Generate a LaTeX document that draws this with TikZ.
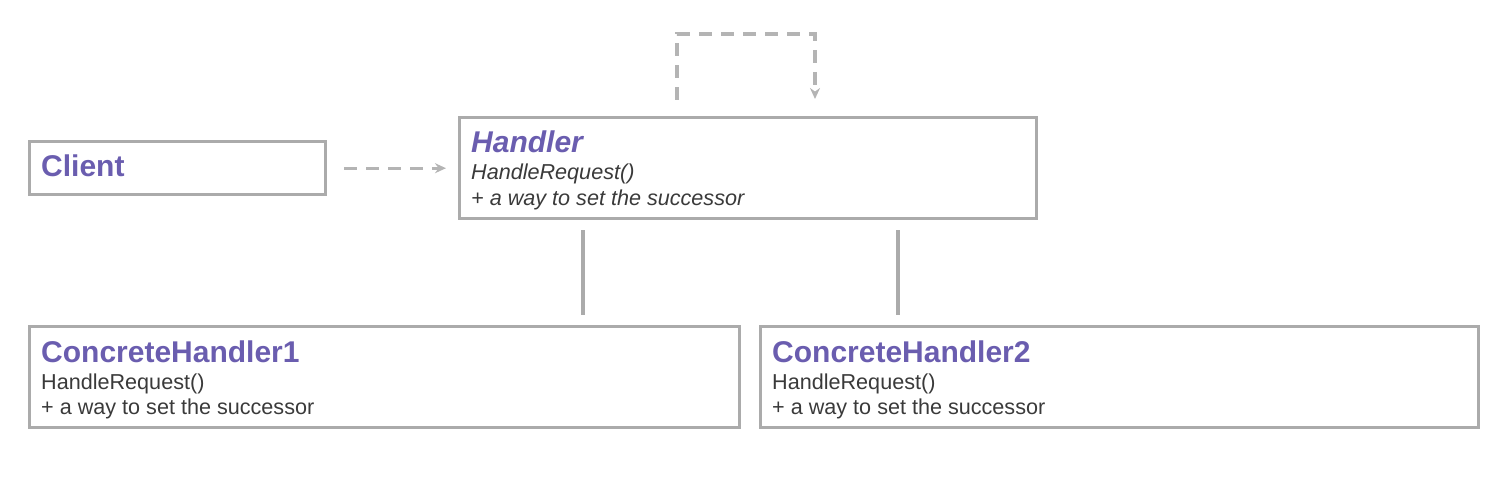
\documentclass[tikz,border=0pt]{standalone}
\usepackage{fontspec}
\setmainfont{Liberation Sans}
\usetikzlibrary{arrows.meta}
\definecolor{purp}{HTML}{6A5DAF}
\definecolor{bord}{HTML}{ABABAB}
\definecolor{dash}{HTML}{B4B4B4}
\definecolor{txt}{HTML}{3A3A3A}
\begin{document}
\begin{tikzpicture}[x=1pt,y=-1pt,
  box/.style={draw=bord,line width=3.4pt,inner sep=0pt,anchor=north west},
  ttl/.style={anchor=base west,inner sep=0pt,text=purp,font=\fontsize{30}{33}\selectfont\bfseries},
  ln/.style={anchor=base west,inner sep=0pt,text=txt,font=\fontsize{21.6}{24}\selectfont},
  dsh/.style={draw=dash,line width=3.2pt,dash pattern=on 13pt off 9pt},
  tip/.style={-{Stealth[length=11pt,width=10pt]}},
  solid line/.style={draw=bord,line width=3.2pt}]
\useasboundingbox (0,0) rectangle (1507,478);
% boxes
\node[box,minimum width=296pt,minimum height=53pt] (client) at (28,140) {};
\node[box,minimum width=577pt,minimum height=101pt] (handler) at (458,116) {};
\node[box,minimum width=710pt,minimum height=101pt] (ch1) at (28,325) {};
\node[box,minimum width=718pt,minimum height=101pt] (ch2) at (759,325) {};
% texts
\node[ttl] (tclient) at (41,177) {Client};
\node[ttl,font=\fontsize{30}{33}\selectfont\bfseries\itshape] (thandler) at (471,153) {Handler};
\node[ln,font=\fontsize{21.6}{24}\selectfont\itshape] (h1) at (471,180) {HandleRequest()};
\node[ln,font=\fontsize{21.6}{24}\selectfont\itshape] (h2) at (471,206) {+ a way to set the successor};
\node[ttl] (tch1) at (41,362) {ConcreteHandler1};
\node[ln] (c1a) at (41,389) {HandleRequest()};
\node[ln] (c1b) at (41,414) {+ a way to set the successor};
\node[ttl] (tch2) at (772,362) {ConcreteHandler2};
\node[ln] (c2a) at (772,389) {HandleRequest()};
\node[ln] (c2b) at (772,414) {+ a way to set the successor};
% connectors
\draw[dsh,tip,shorten <=17pt,shorten >=12pt] (client.east) -- (client.east -| handler.west);
\coordinate (l1) at (677,34);
\coordinate (l2) at (815,34);
\draw[dsh,tip,shorten <=16pt,shorten >=17pt] (handler.north -| l1) -- (l1) -- (l2) -- (handler.north -| l2);
\coordinate (v1) at (583,0);
\coordinate (v2) at (898,0);
\draw[solid line,shorten <=10pt,shorten >=10pt] (handler.south -| v1) -- (ch1.north -| v1);
\draw[solid line,shorten <=10pt,shorten >=10pt] (handler.south -| v2) -- (ch2.north -| v2);
\end{tikzpicture}
\end{document}
